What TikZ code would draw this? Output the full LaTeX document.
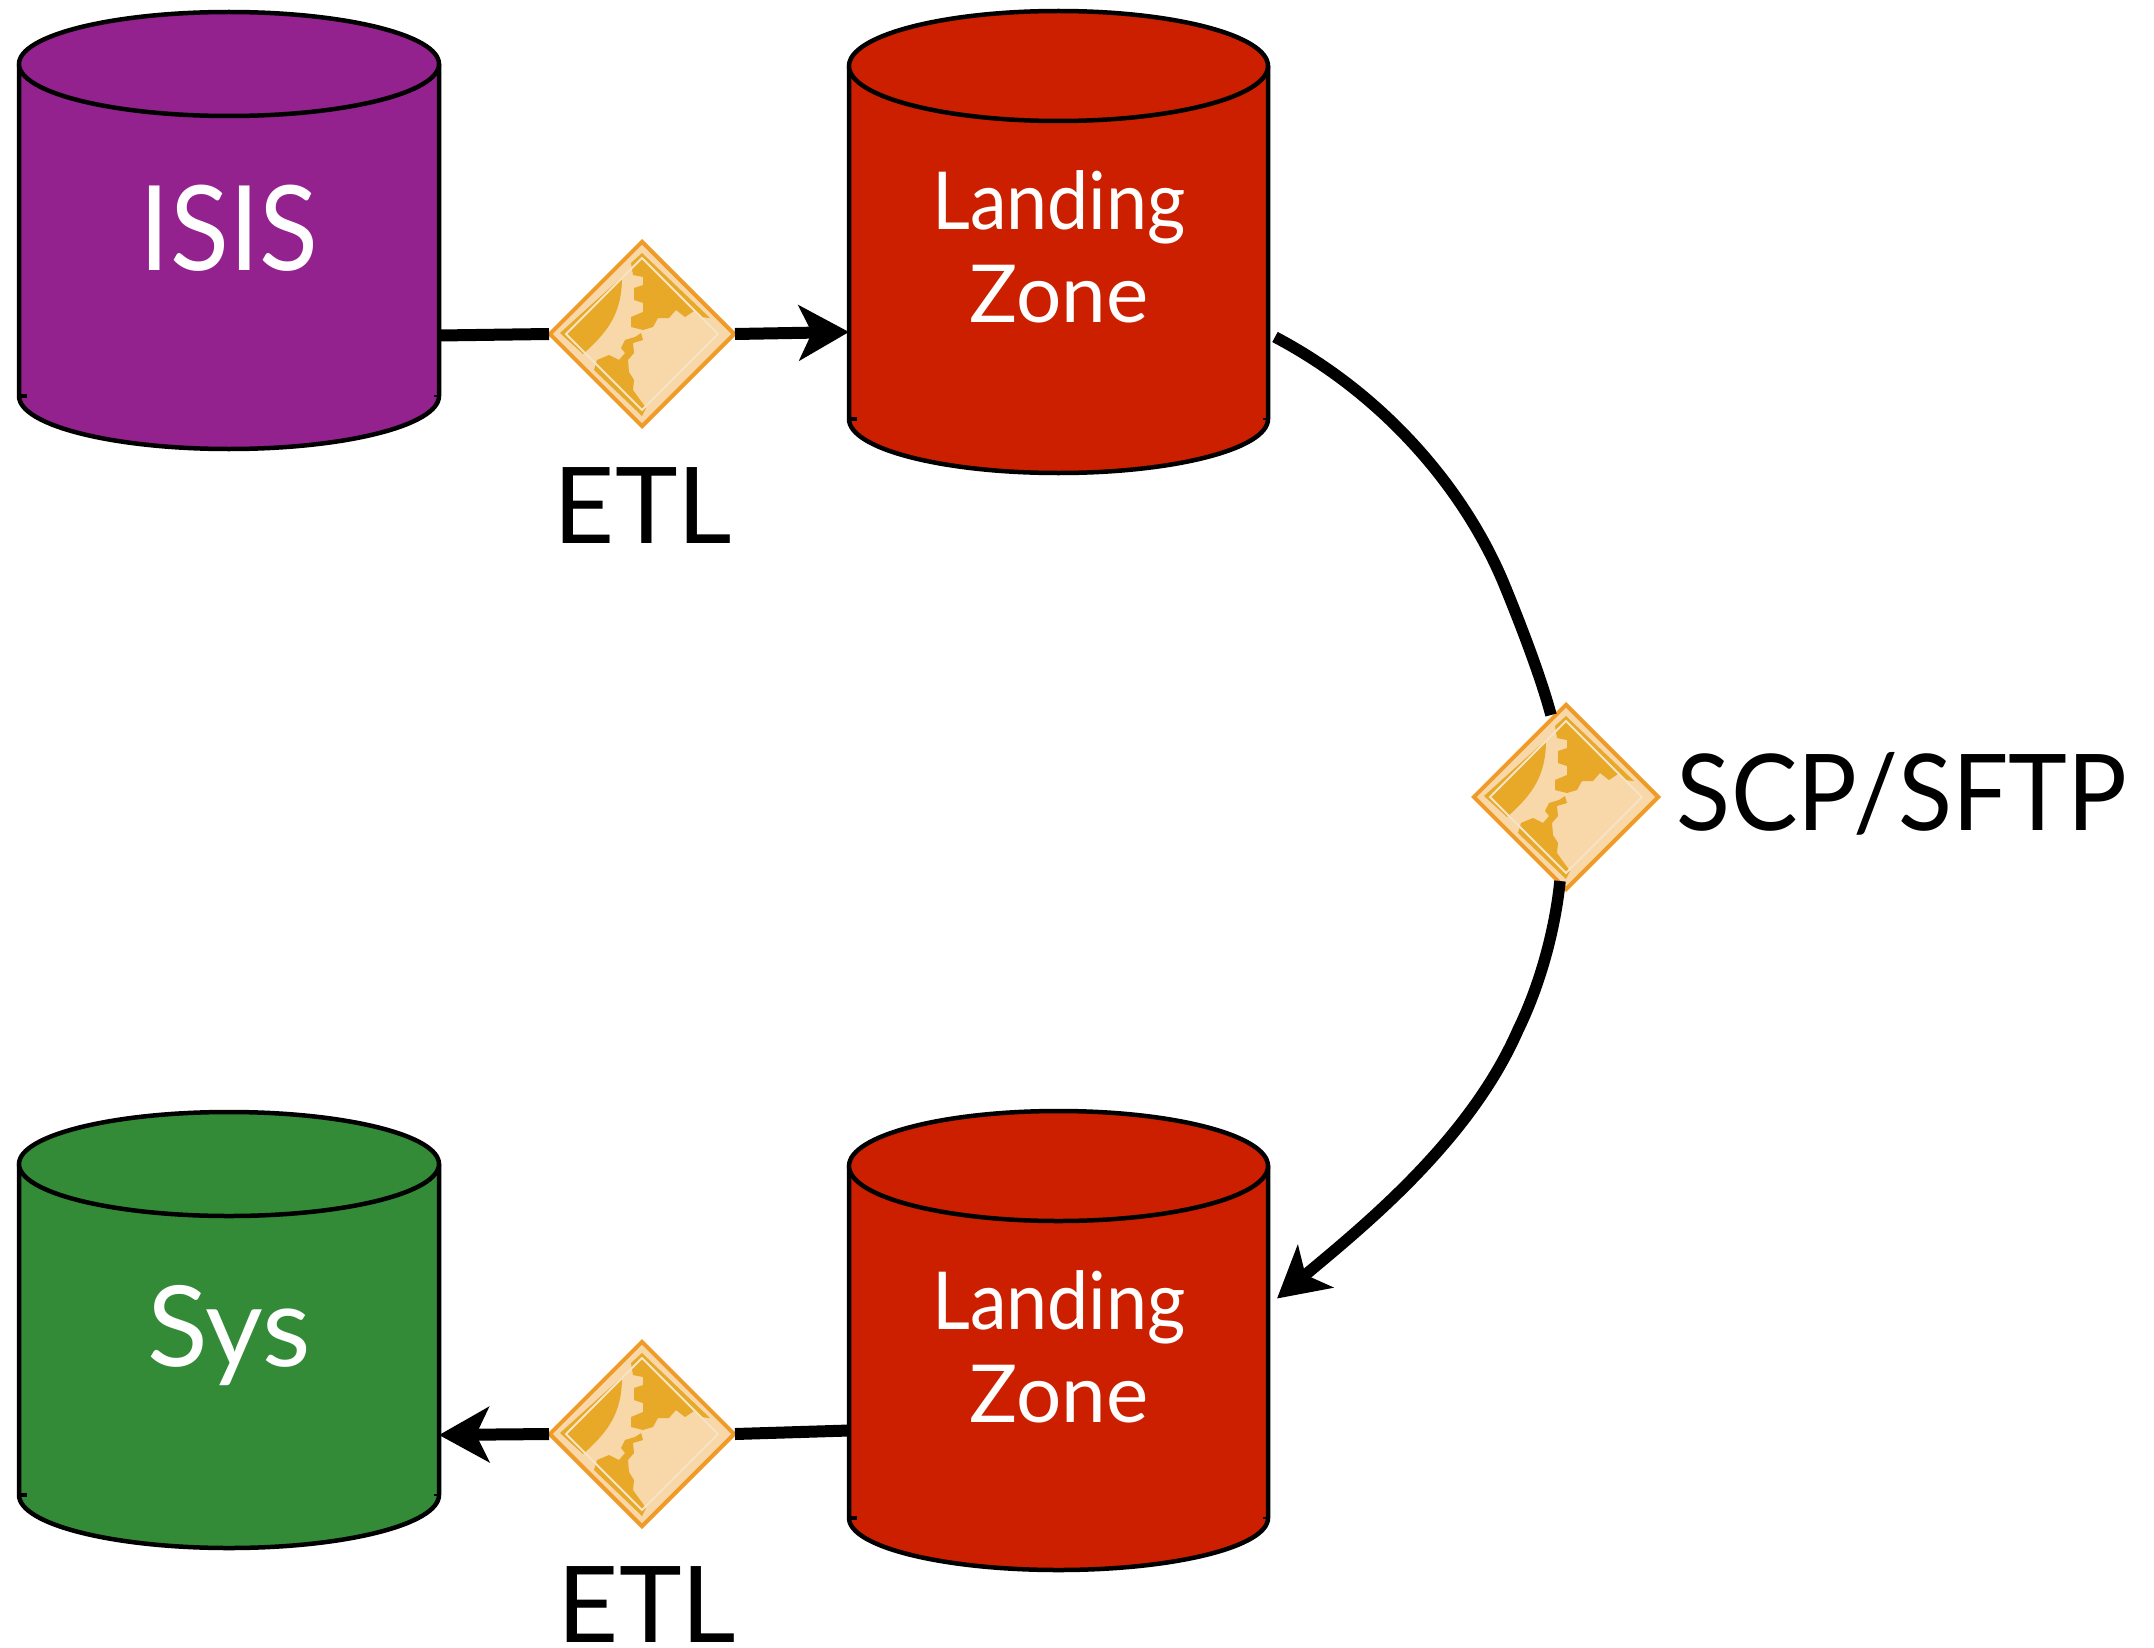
\documentclass[tikz,border=0pt]{standalone}
\usepackage{fontspec}
\setmainfont{Lato}
\newfontfamily\narrowlato{Lato}[FakeStretch=0.92]
\newfontfamily\scplato{Lato}[FakeStretch=0.94]
\usetikzlibrary{arrows.meta,shapes.geometric}
\definecolor{isisc}{HTML}{93228E}
\definecolor{lzc}{HTML}{CC1F00}
\definecolor{sysc}{HTML}{338B37}
\definecolor{gearedge}{HTML}{F09A28}
\definecolor{gearlight}{HTML}{F8D8A8}
\definecolor{gearline}{HTML}{F6E4C4}
\definecolor{geardark}{HTML}{E8A828}
\newcommand{\geardrawing}{%
  \fill[gearlight] (-80,0)--(0,-80)--(80,0)--(0,80)--cycle;
  \fill[geardark] (-20,-57) .. controls (-20,-21) and (-34,-2) .. (-59,20) -- (-82,-1) -- cycle;
  \fill[geardark] (-11,-71)--(0,-81)--(68,-16)--(58,-17)--(52,-23)--(43,-17)--(34,-24)--(27,-16)--(16,-16)--(11,-7)--(1,-4)--(-11,-7)--(-11,-17)--(1,-22)--(1,-31)--(-8,-34)--(-8,-46)--(1,-49)--(1,-57)--(-9,-59)--cycle;
  \fill[geardark] (-45,26)--(-33,21)--(-23,26)--(-17,19)--(-21,14)--(-17,6)--(-7,3)--(-1,-1)--(1,6)--(-9,9)--(-8,19)--(-14,26)--(-13,38)--(-8,46)--(-9,56)--(-4,63)--(4,74)--(0,82)--(-48,36)--cycle;
  \draw[gearline,line width=2pt] (-76,0)--(0,-76)--(76,0)--(0,76)--cycle;
}
\tikzset{
  dbline/.style={draw=black,line width=4.5pt,line join=round},
  dbtext/.style={text=white,align=center,inner sep=0pt},
  blacktext/.style={text=black,inner sep=0pt},
  flow/.style={draw=black,line width=12pt},
  curveflow/.style={draw=black,line width=11.5pt},
  tipstyle/.style={-{Stealth[length=50pt,width=55pt,inset=13pt]}},
  gearbox/.style={diamond,aspect=1,minimum width=186pt,minimum height=186pt,inner sep=0pt,
    draw=gearedge,line width=4pt,fill=gearlight,
    path picture={\begin{scope}[shift={(path picture bounding box.center)}]\geardrawing\end{scope}}},
}
% name, left, right, top-ellipse centre y, top ry, side end y, bottom ry, colour
\newcommand{\dbshape}[8]{%
  \pgfmathsetmacro{\dbrx}{(#3-#2)/2}%
  \pgfmathsetmacro{\dbcx}{(#3+#2)/2}%
  \pgfmathsetmacro{\dbtop}{#4-#5}%
  \pgfmathsetmacro{\dbbot}{#6+#7}%
  \path[dbline,fill=#8] (#2,#4) -- (#2,#6) arc[start angle=180,end angle=360,x radius=\dbrx pt,y radius=#7 pt] -- (#3,#4) -- cycle;
  \path[dbline,fill=#8] (\dbcx,#4) ellipse[x radius=\dbrx pt,y radius=#5 pt];
  \draw[line width=4pt] (#2,#6) -- ++(8,0);
  \draw[line width=2pt] (#3,#6) -- ++(-5,0);
  \node[minimum width=#3pt-#2pt,minimum height=\dbbot pt-\dbtop pt,inner sep=0pt,outer sep=0pt] (#1) at (\dbcx,{(\dbtop+\dbbot)/2}) {};
}
\begin{document}
\begin{tikzpicture}[x=1pt,y=-1pt]
\useasboundingbox (0,0) rectangle (2154,1648);
\dbshape{isis}{19}{439}{64}{52}{396}{53}{isisc}
\dbshape{lzone}{849}{1268}{66}{55}{419}{54}{lzc}
\dbshape{lztwo}{849}{1268}{1166}{55}{1518}{52}{lzc}
\dbshape{sys}{19}{439}{1164}{52}{1495}{53}{sysc}
\node[dbtext,font=\narrowlato\fontsize{118}{118}\selectfont] (isistext) at (229,228) {ISIS};
\node[dbtext,font=\fontsize{80}{93}\selectfont] (lzonetext) at (1059,247) {{\narrowlato Landing}\\Zone};
\node[dbtext,font=\fontsize{80}{93}\selectfont] (lztwotext) at (1059,1347) {{\narrowlato Landing}\\Zone};
\node[dbtext,font=\fontsize{112}{112}\selectfont] (systext) at (229,1336) {Sys};
\node[gearbox] (etlone) at (642,334) {};
\node[gearbox] (scp) at (1566,797) {};
\node[gearbox] (etltwo) at (642,1434) {};
\draw[flow] ([yshift=-105pt]isis.east) -- ([xshift=2pt]etlone.west);
\draw[flow,tipstyle] ([xshift=-2pt]etlone.east) -- ([yshift=-90pt]lzone.west);
\draw[flow] ([yshift=-90pt]lztwo.west) -- ([xshift=-2pt]etltwo.east);
\draw[flow,tipstyle] ([xshift=2pt]etltwo.west) -- ([yshift=-105pt]sys.east);
\draw[curveflow] ([xshift=7pt,yshift=-95pt]lzone.east) .. controls (1385,395) and (1465,490) .. (1504,584) .. controls (1527,640) and (1543,685) .. ([xshift=-15pt,yshift=-13pt]scp.north);
\draw[curveflow,tipstyle] ([xshift=-6pt,yshift=11pt]scp.south) .. controls (1555,930) and (1540,985) .. (1518,1030) .. controls (1470,1140) and (1365,1225) .. ([xshift=9pt,yshift=42pt]lztwo.east);
\node[blacktext,font=\fontsize{106}{106}\selectfont] (etllabel) at (643,506) {ETL};
\node[blacktext,font=\fontsize{106}{106}\selectfont] (etllabeltwo) at (647,1605) {ETL};
\node[blacktext,font=\scplato\fontsize{106}{106}\selectfont] (scplabel) at (1902,794) {SCP/SFTP};
\end{tikzpicture}
\end{document}
